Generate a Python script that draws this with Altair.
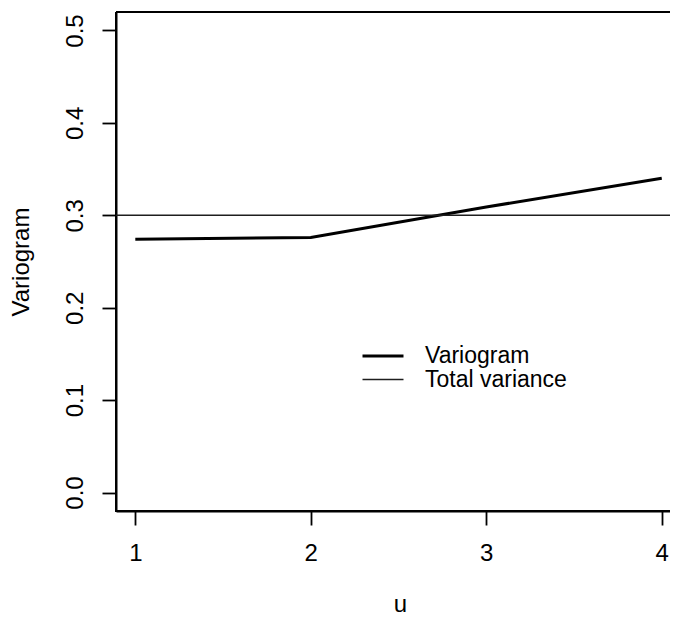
import altair as alt
import pandas as pd

# Data
u_values = [1, 2, 3, 4]
variogram_values = [0.274, 0.276, 0.309, 0.340]
total_variance = [0.30]
series_names = ["Variogram", "Total variance"]
x_ticks = [1, 2, 3, 4]
y_ticks = [0.0, 0.1, 0.2, 0.3, 0.4, 0.5]

df_var = pd.DataFrame({"u": u_values, "value": variogram_values, "series": "Variogram"})
df_tv = pd.DataFrame({"value": total_variance, "series": "Total variance"})

FONT = "Liberation Sans"
FS = 24
W, H = 554, 499

x_scale = alt.Scale(domain=[0.89, 4.047], nice=False, zero=False)
y_scale = alt.Scale(domain=[-0.02, 0.52], nice=False, zero=False)

legend_kw = dict(
    title=None, orient="none", legendX=255, legendY=332, padding=0,
    symbolType="M-2,0H2", symbolSize=420, symbolStrokeColor="black",
    labelFont=FONT, labelFontSize=23, labelColor="black", labelOffset=30,
    rowPadding=-3,
)

color = alt.Color(
    "series:N",
    scale=alt.Scale(domain=series_names, range=["#000000", "#1e1e1e"]),
    legend=alt.Legend(**legend_kw),
)
stroke_w = alt.StrokeWidth(
    "series:N",
    scale=alt.Scale(domain=series_names, range=[3.0, 1.4]),
    legend=alt.Legend(**legend_kw),
)

x_axis = alt.Axis(
    values=x_ticks, format="d", grid=False, tickSize=14, tickWidth=1.8,
    domainWidth=2, domainColor="black", tickColor="black",
    labelFontSize=FS, labelFont=FONT, labelColor="black", labelPadding=16,
    labelBaseline="top", labelAngle=0,
    title="u", titleFont=FONT, titleFontSize=FS, titleFontWeight="normal",
    titleColor="black", titleX=284, titleY=100, titleBaseline="alphabetic",
    titleAlign="center", titleAngle=0,
)
y_axis = alt.Axis(
    orient="left",
    values=y_ticks, format=".1f", grid=False, tickSize=14, tickWidth=1.8,
    domainWidth=2, domainColor="black", tickColor="black",
    labelFontSize=FS, labelFont=FONT, labelColor="black", labelPadding=20,
    labelAngle=270, labelAlign="center", labelBaseline="alphabetic",
    title="Variogram", titleFont=FONT, titleFontSize=FS, titleFontWeight="normal",
    titleColor="black", titleX=-88, titleY=249.5, titleBaseline="alphabetic",
    titleAlign="center", titleAngle=270,
)
# second layer's axis: kept on the left and invisible
y_axis_hidden = alt.Axis(
    orient="left", labels=False, ticks=False, domain=False, grid=False, title=None,
)

line = alt.Chart(df_var).mark_line(strokeCap="butt").encode(
    x=alt.X("u:Q", scale=x_scale, axis=x_axis),
    y=alt.Y("value:Q", scale=y_scale, axis=y_axis),
    color=color,
    strokeWidth=stroke_w,
)

rule = alt.Chart(df_tv).mark_rule().encode(
    y=alt.Y("value:Q", scale=y_scale, axis=y_axis_hidden),
    color=color,
    strokeWidth=stroke_w,
)

chart = (
    alt.layer(line, rule)
    .resolve_axis(y="independent")
    .properties(
        width=W, height=H,
        autosize=alt.AutoSizeParams(type="none"),
        padding={"left": 108, "top": 4, "right": 0, "bottom": 101},
        background="white",
    )
    .configure(font=FONT)
    # frame: top, bottom and left edges drawn; the right edge lies off the page in the reference
    .configure_view(stroke="black", strokeWidth=2, strokeDash=[W, H, W + H, 0])
)

chart.save("out.html", embed_options={"renderer": "svg", "actions": False})
